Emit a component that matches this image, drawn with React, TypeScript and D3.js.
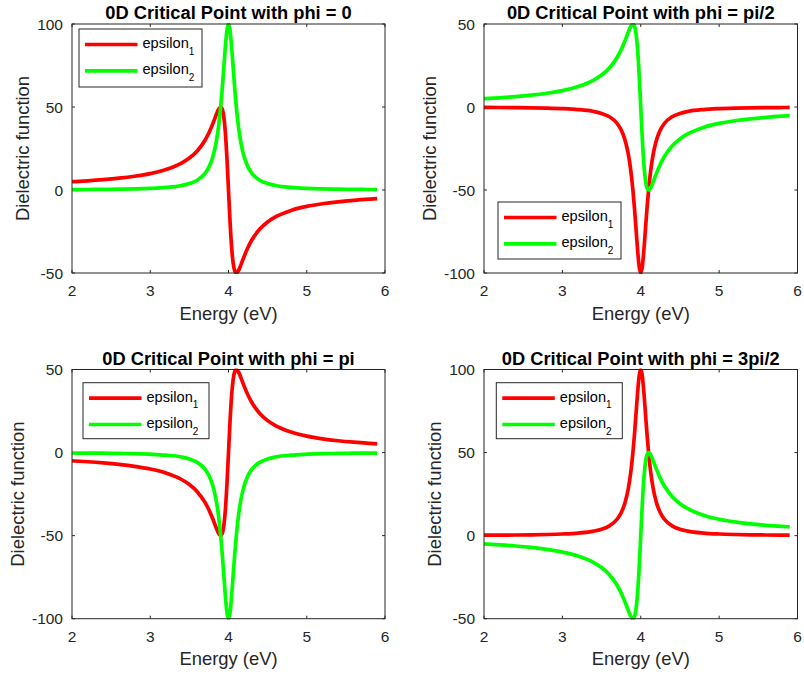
import React from "react";
import * as d3 from "d3";

// ---------------- DATA ----------------
const energy = [2.0, 2.2, 2.4, 2.6, 2.8, 3.0, 3.2, 3.4, 3.5, 3.6, 3.7, 3.75, 3.8, 3.84, 3.87, 3.9, 3.92, 3.94, 3.96, 3.98, 4.0, 4.02, 4.04, 4.06, 4.08, 4.1, 4.13, 4.16, 4.2, 4.25, 4.3, 4.4, 4.5, 4.6, 4.8, 5.0, 5.2, 5.4, 5.6, 5.8, 5.9];

const eps1Phi0 = [4.99, 5.54, 6.23, 7.11, 8.28, 9.9, 12.31, 16.22, 19.23, 23.53, 30.0, 34.48, 40.0, 44.94, 48.33, 50.0, 48.78, 44.12, 34.48, 19.23, 0, -19.23, -34.48, -44.12, -48.78, -50.0, -48.33, -44.94, -40.0, -34.48, -30.0, -23.53, -19.23, -16.22, -12.31, -9.9, -8.28, -7.11, -6.23, -5.54, -5.25];
const eps2Phi0 = [0.25, 0.31, 0.39, 0.51, 0.69, 0.99, 1.54, 2.7, 3.85, 5.88, 10.0, 13.79, 20.0, 28.09, 37.17, 50.0, 60.98, 73.53, 86.21, 96.15, 100, 96.15, 86.21, 73.53, 60.98, 50.0, 37.17, 28.09, 20.0, 13.79, 10.0, 5.88, 3.85, 2.7, 1.54, 0.99, 0.69, 0.51, 0.39, 0.31, 0.28];

const eps1PhiHalfPi = [-0.25, -0.31, -0.39, -0.51, -0.69, -0.99, -1.54, -2.7, -3.85, -5.88, -10.0, -13.79, -20.0, -28.09, -37.17, -50.0, -60.98, -73.53, -86.21, -96.15, -100, -96.15, -86.21, -73.53, -60.98, -50.0, -37.17, -28.09, -20.0, -13.79, -10.0, -5.88, -3.85, -2.7, -1.54, -0.99, -0.69, -0.51, -0.39, -0.31, -0.28];
const eps2PhiHalfPi = [4.99, 5.54, 6.23, 7.11, 8.28, 9.9, 12.31, 16.22, 19.23, 23.53, 30.0, 34.48, 40.0, 44.94, 48.33, 50.0, 48.78, 44.12, 34.48, 19.23, 0, -19.23, -34.48, -44.12, -48.78, -50.0, -48.33, -44.94, -40.0, -34.48, -30.0, -23.53, -19.23, -16.22, -12.31, -9.9, -8.28, -7.11, -6.23, -5.54, -5.25];

const eps1PhiPi = [-4.99, -5.54, -6.23, -7.11, -8.28, -9.9, -12.31, -16.22, -19.23, -23.53, -30.0, -34.48, -40.0, -44.94, -48.33, -50.0, -48.78, -44.12, -34.48, -19.23, 0, 19.23, 34.48, 44.12, 48.78, 50.0, 48.33, 44.94, 40.0, 34.48, 30.0, 23.53, 19.23, 16.22, 12.31, 9.9, 8.28, 7.11, 6.23, 5.54, 5.25];
const eps2PhiPi = [-0.25, -0.31, -0.39, -0.51, -0.69, -0.99, -1.54, -2.7, -3.85, -5.88, -10.0, -13.79, -20.0, -28.09, -37.17, -50.0, -60.98, -73.53, -86.21, -96.15, -100, -96.15, -86.21, -73.53, -60.98, -50.0, -37.17, -28.09, -20.0, -13.79, -10.0, -5.88, -3.85, -2.7, -1.54, -0.99, -0.69, -0.51, -0.39, -0.31, -0.28];

const eps1Phi3HalfPi = [0.25, 0.31, 0.39, 0.51, 0.69, 0.99, 1.54, 2.7, 3.85, 5.88, 10.0, 13.79, 20.0, 28.09, 37.17, 50.0, 60.98, 73.53, 86.21, 96.15, 100, 96.15, 86.21, 73.53, 60.98, 50.0, 37.17, 28.09, 20.0, 13.79, 10.0, 5.88, 3.85, 2.7, 1.54, 0.99, 0.69, 0.51, 0.39, 0.31, 0.28];
const eps2Phi3HalfPi = [-4.99, -5.54, -6.23, -7.11, -8.28, -9.9, -12.31, -16.22, -19.23, -23.53, -30.0, -34.48, -40.0, -44.94, -48.33, -50.0, -48.78, -44.12, -34.48, -19.23, 0, 19.23, 34.48, 44.12, 48.78, 50.0, 48.33, 44.94, 40.0, 34.48, 30.0, 23.53, 19.23, 16.22, 12.31, 9.9, 8.28, 7.11, 6.23, 5.54, 5.25];

const titles = [
  "0D Critical Point with phi = 0",
  "0D Critical Point with phi = pi/2",
  "0D Critical Point with phi = pi",
  "0D Critical Point with phi = 3pi/2",
];
const xDomain = [2, 6];
const xTicks = [2, 3, 4, 5, 6];
const yDomainHigh = [-50, 100];
const yDomainLow = [-100, 50];
const yTicksHigh = [-50, 0, 50, 100];
const yTicksLow = [-100, -50, 0, 50];
const seriesNames = ["epsilon", "epsilon"];
const seriesSubs = ["1", "2"];
const xLabel = "Energy (eV)";
const yLabel = "Dielectric function";

// ---------------- LAYOUT / STYLE ----------------
const W = 804;
const H = 674;
const FONT = "'Liberation Sans', Arial, Helvetica, sans-serif";
const AXIS_COLOR = "#262626";
const COLORS = ["#ff0000", "#00ff00"];
const LINE_W = 3.7;
const TICK_FS = 15.5;
const LABEL_FS = 18.4;
const TITLE_FS = 18.3;
const LEG_FS = 14.6;

const panels = [
  { title: titles[0], e1: eps1Phi0, e2: eps2Phi0, yDomain: yDomainHigh, yTicks: yTicksHigh,
    rect: { x: 72, y: 24, w: 313, h: 249 }, leg: { x: 79, y: 29, w: 123, h: 58 } },
  { title: titles[1], e1: eps1PhiHalfPi, e2: eps2PhiHalfPi, yDomain: yDomainLow, yTicks: yTicksLow,
    rect: { x: 484, y: 24, w: 313.5, h: 249 }, leg: { x: 498, y: 202, w: 123, h: 57 } },
  { title: titles[2], e1: eps1PhiPi, e2: eps2PhiPi, yDomain: yDomainLow, yTicks: yTicksLow,
    rect: { x: 72, y: 369.5, w: 313, h: 249.2 }, leg: { x: 83, y: 382.7, w: 126, h: 56 } },
  { title: titles[3], e1: eps1Phi3HalfPi, e2: eps2Phi3HalfPi, yDomain: yDomainHigh, yTicks: yTicksHigh,
    rect: { x: 484, y: 369.5, w: 313.5, h: 249.2 }, leg: { x: 496.3, y: 382.7, w: 126, h: 56 } },
];

function labelWidth(s: string) {
  let w = 0;
  for (const c of s) w += c === "-" ? 0.333 : 0.556;
  return w * TICK_FS;
}

function Panel({ p, idx }: { p: any; idx: number }) {
  const { rect, leg } = p;
  const x = d3.scaleLinear().domain(xDomain).range([rect.x, rect.x + rect.w]);
  const y = d3.scaleLinear().domain(p.yDomain).range([rect.y + rect.h, rect.y]);
  const line = d3
    .line<number>()
    .x((_, i) => x(energy[i]))
    .y((v) => y(v))
    .curve(d3.curveMonotoneX);
  const tl = 3;
  const maxLW = Math.max(...p.yTicks.map((t: number) => labelWidth(String(t))));
  const yLabelX = rect.x - 9 - maxLW - 8;
  const clipId = `clip${idx}`;
  const bottom = rect.y + rect.h;
  const right = rect.x + rect.w;
  return (
    <g>
      <defs>
        <clipPath id={clipId}>
          <rect x={rect.x - 1} y={rect.y - 1} width={rect.w + 2} height={rect.h + 2} />
        </clipPath>
      </defs>
      <rect x={rect.x} y={rect.y} width={rect.w} height={rect.h} fill="#fff" />
      {xTicks.map((t) => (
        <g key={"xt" + t}>
          <line x1={x(t)} x2={x(t)} y1={bottom} y2={bottom - tl} stroke={AXIS_COLOR} strokeWidth={1} />
          <line x1={x(t)} x2={x(t)} y1={rect.y} y2={rect.y + tl} stroke={AXIS_COLOR} strokeWidth={1} />
          <text x={x(t)} y={bottom + 23} textAnchor="middle" fontSize={TICK_FS} fill={AXIS_COLOR} fontFamily={FONT}>
            {t}
          </text>
        </g>
      ))}
      {p.yTicks.map((t: number) => (
        <g key={"yt" + t}>
          <line x1={rect.x} x2={rect.x + tl} y1={y(t)} y2={y(t)} stroke={AXIS_COLOR} strokeWidth={1} />
          <line x1={right} x2={right - tl} y1={y(t)} y2={y(t)} stroke={AXIS_COLOR} strokeWidth={1} />
          <text x={rect.x - 9} y={y(t) + 5.5} textAnchor="end" fontSize={TICK_FS} fill={AXIS_COLOR} fontFamily={FONT}>
            {String(t)}
          </text>
        </g>
      ))}
      <g clipPath={`url(#${clipId})`}>
        <path d={line(p.e1) || ""} fill="none" stroke={COLORS[0]} strokeWidth={LINE_W} strokeLinejoin="round" />
        <path d={line(p.e2) || ""} fill="none" stroke={COLORS[1]} strokeWidth={LINE_W} strokeLinejoin="round" />
      </g>
      <rect x={rect.x} y={rect.y} width={rect.w} height={rect.h} fill="none" stroke={AXIS_COLOR} strokeWidth={1} />
      <text x={rect.x + rect.w / 2} y={rect.y - 5} textAnchor="middle" fontSize={TITLE_FS} fontWeight="bold" fill="#000" fontFamily={FONT}>
        {p.title}
      </text>
      <text x={rect.x + rect.w / 2} y={bottom + 46.5} textAnchor="middle" fontSize={LABEL_FS} fill={AXIS_COLOR} fontFamily={FONT}>
        {xLabel}
      </text>
      <text
        transform={`translate(${yLabelX},${rect.y + rect.h / 2}) rotate(-90)`}
        textAnchor="middle"
        fontSize={LABEL_FS}
        fill={AXIS_COLOR}
        fontFamily={FONT}
      >
        {yLabel}
      </text>
      <rect x={leg.x} y={leg.y} width={leg.w} height={leg.h} fill="#fff" stroke={AXIS_COLOR} strokeWidth={1} />
      {[0, 1].map((i) => {
        const ly = leg.y + 15.5 + i * 26.3;
        return (
          <g key={"lg" + i}>
            <line x1={leg.x + 6} x2={leg.x + 58.5} y1={ly} y2={ly} stroke={COLORS[i]} strokeWidth={LINE_W} />
            <text x={leg.x + 63.5} y={ly + 3.5} fontSize={LEG_FS} fill="#000" fontFamily={FONT}>
              {seriesNames[i]}
              <tspan fontSize={10} dy={6.5}>
                {seriesSubs[i]}
              </tspan>
            </text>
          </g>
        );
      })}
    </g>
  );
}

export default function App() {
  return (
    <svg
      width={W}
      height={H}
      viewBox={`0 0 ${W} ${H}`}
      style={{ position: "absolute", left: 0, top: 0, background: "#fff" }}
    >
      <rect x={0} y={0} width={W} height={H} fill="#fff" />
      {panels.map((p, i) => (
        <Panel key={i} p={p} idx={i} />
      ))}
    </svg>
  );
}
